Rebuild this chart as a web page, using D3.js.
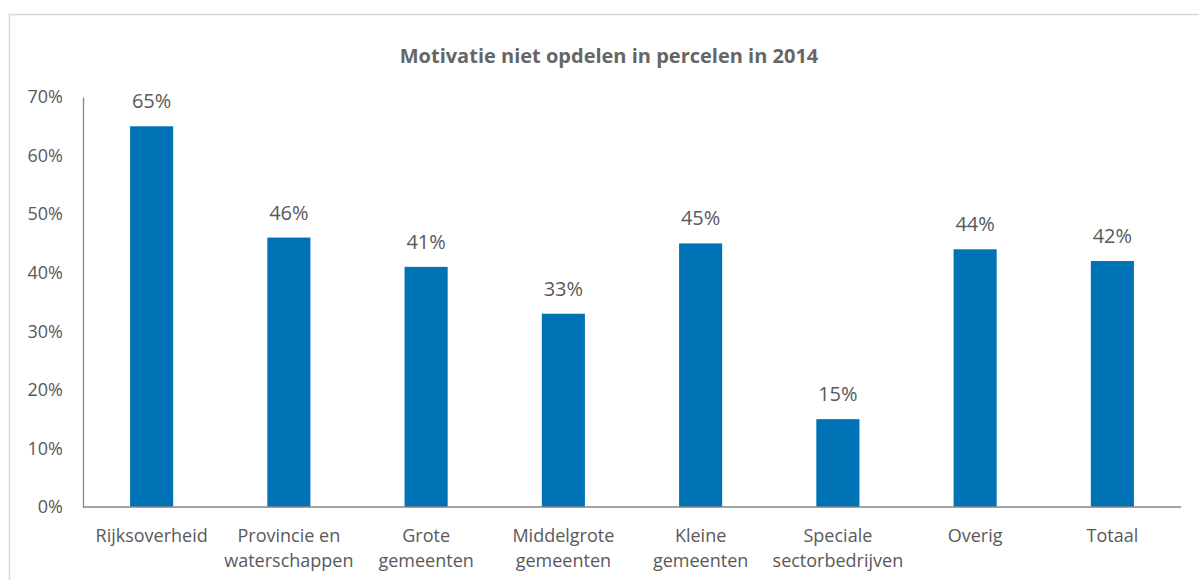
<!DOCTYPE html>
<html>
<head>
<meta charset="utf-8">
<script src="https://cdn.jsdelivr.net/npm/d3@7"></script>
<style>
  body { margin: 0; background: #fff; }
  #graf { width: 1199px; height: 580px; }
</style>
</head>
<body>
<div id="graf"></div>
<script>
// -- Datos
categorias = ['Rijksoverheid', 'Provincie en|waterschappen', 'Grote|gemeenten', 'Middelgrote|gemeenten',
              'Kleine|gemeenten', 'Speciale|sectorbedrijven', 'Overig', 'Totaal']
valores = [0.65, 0.46, 0.41, 0.33, 0.45, 0.15, 0.44, 0.42]
ticksY = [0, 0.1, 0.2, 0.3, 0.4, 0.5, 0.6, 0.7]
titulo = 'Motivatie niet opdelen in percelen in 2014'

// -- Configuración del canvas
ancho_total = 1199
alto_total = 580
margins = {top: 97, left: 83, right: 18, bottom: 73}
ancho = ancho_total - margins.left - margins.right
alto = alto_total - margins.top - margins.bottom

svg = d3.select('#graf').append('svg')
        .attr('width', ancho_total)
        .attr('height', alto_total)
        .style('font-family', '"Open Sans", sans-serif')

// -- Marco del gráfico (cortado a la derecha y abajo)
svg.append('rect')
    .attr('x', 9.5)
    .attr('y', 14.5)
    .attr('width', 1300)
    .attr('height', 700)
    .attr('fill', 'none')
    .attr('stroke', '#d9d9d9')
    .attr('stroke-width', 1.5)

svg.append('text')
    .attr('x', 609)
    .attr('y', 63)
    .attr('text-anchor', 'middle')
    .attr('font-size', '20px')
    .attr('font-weight', 'bold')
    .attr('fill', '#666666')
    .text(titulo)

g = svg.append('g')
        .attr('transform', `translate(${margins.left}, ${margins.top})`)

// -- Escaladores
x = d3.scaleBand().domain(categorias).range([0, ancho]).paddingInner(0.686).paddingOuter(0.343)
y = d3.scaleLinear().domain([0, 0.7]).range([alto, 0])

// -- Eje Y
yAxis = d3.axisLeft(y)
            .tickValues(ticksY)
            .tickFormat(d3.format('.0%'))
            .tickSize(0)
            .tickPadding(20)
ejeY = g.append('g').call(yAxis)
ejeY.select('.domain').attr('stroke', '#868686').attr('stroke-width', 1.3)
ejeY.selectAll('text')
    .attr('font-size', '18px')
    .attr('font-family', '"Open Sans", sans-serif')
    .attr('fill', '#595959')

// -- Barras
g.selectAll('rect.barra')
    .data(valores)
    .enter()
    .append('rect')
    .attr('class', 'barra')
    .attr('x', (d, i) => x(categorias[i]))
    .attr('y', d => y(d))
    .attr('width', x.bandwidth())
    .attr('height', d => alto - y(d))
    .attr('fill', '#0073b6')

// -- Etiquetas de valor
g.selectAll('text.valor')
    .data(valores)
    .enter()
    .append('text')
    .attr('class', 'valor')
    .attr('x', (d, i) => x(categorias[i]) + x.bandwidth() / 2)
    .attr('y', d => y(d) - 18)
    .attr('text-anchor', 'middle')
    .attr('font-size', '20px')
    .attr('fill', '#595959')
    .text(d => d3.format('.0%')(d))

// -- Eje X
g.append('line')
    .attr('x1', 0)
    .attr('x2', ancho)
    .attr('y1', alto)
    .attr('y2', alto)
    .attr('stroke', '#868686')
    .attr('stroke-width', 1.3)

categorias.forEach(c => {
    lineas = c.split('|')
    t = g.append('text')
        .attr('x', x(c) + x.bandwidth() / 2)
        .attr('y', alto + 35)
        .attr('text-anchor', 'middle')
        .attr('font-size', '18px')
        .attr('fill', '#595959')
    lineas.forEach((l, i) => {
        t.append('tspan')
            .attr('x', x(c) + x.bandwidth() / 2)
            .attr('dy', i === 0 ? 0 : 25)
            .text(l)
    })
})
</script>
</body>
</html>
